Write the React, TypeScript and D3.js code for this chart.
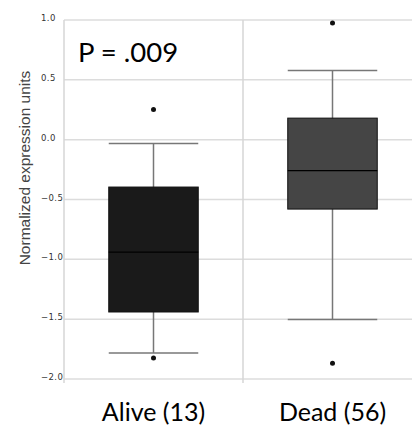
import React, { useEffect, useRef } from 'react'
import * as d3 from 'd3'

// values
const groups = ['Alive (13)', 'Dead (56)']
const whiskerLow = [-1.783, -1.502]
const q1 = [-1.44, -0.58]
const median = [-0.939, -0.259]
const q3 = [-0.396, 0.18]
const whiskerHigh = [-0.033, 0.579]
const outliers = [[0.253, -1.825], [0.974, -1.869]]
const boxFill = ['#1a1a1a', '#454545']
const yTicks = [1.0, 0.5, 0.0, -0.5, -1.0, -1.5, -2.0]
const pLabel = 'P = .009'
const yTitle = 'Normalized expression units'

const W = 412
const H = 427

export default function App () {
  const ref = useRef<SVGSVGElement>(null)

  useEffect(() => {
    const svg = d3.select(ref.current)
    svg.selectAll('*').remove()

    const x = d3.scaleBand<string>()
      .domain(groups)
      .range([64, 422])
    const y = d3.scaleLinear()
      .domain([-2, 1])
      .range([379, 20])

    const grid = svg.append('g').attr('class', 'grid')
    grid.selectAll('line.h')
      .data(yTicks)
      .enter()
      .append('line')
        .attr('class', 'h')
        .attr('x1', x.range()[0])
        .attr('x2', x.range()[1])
        .attr('y1', (d) => y(d))
        .attr('y2', (d) => y(d))
        .attr('stroke', '#dcdcdc')
        .attr('stroke-width', 1.5)
    // left edge + band separators
    const vx = [x.range()[0], x(groups[1])!]
    grid.selectAll('line.v')
      .data(vx)
      .enter()
      .append('line')
        .attr('class', 'v')
        .attr('x1', (d) => d)
        .attr('x2', (d) => d)
        .attr('y1', y(1))
        .attr('y2', y(-2) + 4)
        .attr('stroke', '#d6d6d6')
        .attr('stroke-width', 1.5)

    svg.append('g')
      .selectAll('text')
      .data(yTicks)
      .enter()
      .append('text')
        .attr('x', 41)
        .attr('y', (d) => y(d) + 1)
        .attr('font-family', 'DejaVu Sans, Verdana, sans-serif')
        .attr('font-size', 8.5)
        .attr('letter-spacing', 0.4)
        .attr('fill', '#333')
        .text((d) => d3.format('.1f')(d))

    svg.append('text')
      .attr('transform', `translate(30,168) rotate(-90)`)
      .attr('text-anchor', 'middle')
      .attr('font-family', 'Liberation Sans, Arial, sans-serif')
      .attr('font-size', 15.5)
      .attr('fill', '#444')
      .text(yTitle)

    const bw = x.bandwidth() / 2
    const boxes = svg.selectAll('g.box')
      .data(groups)
      .enter()
      .append('g')
        .attr('class', 'box')
        .attr('transform', (d) => `translate(${x(d)! + x.bandwidth() / 2},0)`)

    boxes.append('line')
      .attr('x1', 0).attr('x2', 0)
      .attr('y1', (d, i) => y(whiskerHigh[i]))
      .attr('y2', (d, i) => y(whiskerLow[i]))
      .attr('stroke', '#777')
      .attr('stroke-width', 1.5)
    boxes.selectAll('line.cap')
      .data((d, i) => [whiskerLow[i], whiskerHigh[i]])
      .enter()
      .append('line')
        .attr('class', 'cap')
        .attr('x1', -bw / 2).attr('x2', bw / 2)
        .attr('y1', (v) => y(v)).attr('y2', (v) => y(v))
        .attr('stroke', '#777')
        .attr('stroke-width', 1.5)
    boxes.append('rect')
      .attr('x', -bw / 2)
      .attr('width', bw)
      .attr('y', (d, i) => y(q3[i]))
      .attr('height', (d, i) => y(q1[i]) - y(q3[i]))
      .attr('fill', (d, i) => boxFill[i])
      .attr('stroke', '#111')
      .attr('stroke-width', 1)
    boxes.append('line')
      .attr('x1', -bw / 2).attr('x2', bw / 2)
      .attr('y1', (d, i) => y(median[i]))
      .attr('y2', (d, i) => y(median[i]))
      .attr('stroke', '#000')
      .attr('stroke-width', 1.2)
    boxes.selectAll('circle')
      .data((d, i) => outliers[i])
      .enter()
      .append('circle')
        .attr('cx', 0)
        .attr('cy', (v) => y(v))
        .attr('r', 2.5)
        .attr('fill', '#111')

    boxes.append('text')
      .attr('y', 421)
      .attr('text-anchor', 'middle')
      .attr('font-family', 'Lato, Open Sans, sans-serif')
      .attr('font-size', 25)
      .attr('fill', '#000')
      .text((d) => d)

    svg.append('text')
      .attr('x', 78)
      .attr('y', 62)
      .attr('font-family', 'Lato, Open Sans, sans-serif')
      .attr('font-size', 27.5)
      .attr('fill', '#000')
      .text(pLabel)
  }, [])

  return (
    <svg ref={ref} width={W} height={H}
      style={{ position: 'absolute', left: 0, top: 0, background: '#fff' }} />
  )
}
